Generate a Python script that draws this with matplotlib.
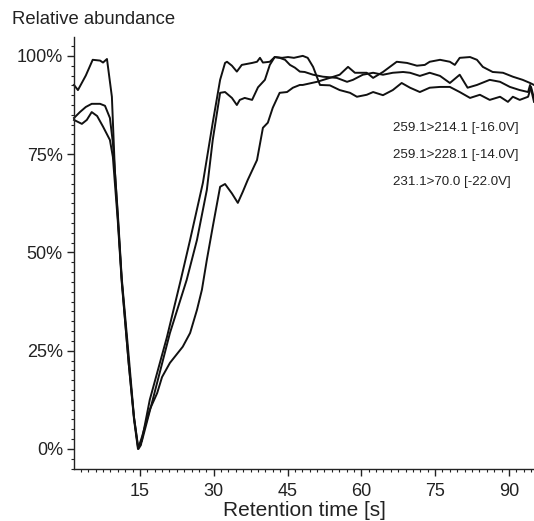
import matplotlib
matplotlib.use("Agg")
import matplotlib.pyplot as plt
from matplotlib.ticker import MultipleLocator, FuncFormatter

plt.rcParams['font.family'] = ['Liberation Sans', 'DejaVu Sans']

# Retention time (s) and relative abundance (%) for three transitions
t1 = [1.6, 2.4, 4.0, 5.4, 6.9, 7.5, 8.3, 9.3, 9.9, 11.3, 12.7, 13.8, 14.7, 15.2, 17.0, 20.5,
      23.3, 25.2, 27.8, 29.8, 31.3, 32.3, 32.7, 33.7, 34.7, 35.7, 37.8, 38.8, 39.4, 40.0, 41.4,
      42.4, 43.9, 45.1, 46.3, 48.1, 49.1, 50.2, 51.6, 53.6, 55.6, 57.7, 59.1, 61.1, 62.4, 64.4,
      66.4, 68.2, 69.9, 71.9, 73.9, 76.0, 78.0, 80.0, 82.1, 84.1, 86.1, 88.2, 89.8, 90.8, 92.2,
      93.9, 94.5, 95.1]
y1 = [92.6, 91.3, 95.0, 99.0, 98.8, 98.3, 99.2, 89.6, 71.0, 43.0, 22.0, 8.0, 0.0, 1.0, 12.5, 28.5,
      43.0, 53.2, 67.7, 83.0, 93.9, 98.2, 98.5, 97.5, 96.0, 97.7, 98.2, 98.5, 99.5, 98.3, 98.5,
      99.7, 99.5, 99.7, 99.5, 100.0, 99.5, 97.2, 92.6, 92.5, 91.3, 90.6, 89.6, 90.1, 90.8, 90.0,
      91.3, 93.1, 91.9, 90.8, 91.9, 92.1, 92.1, 90.8, 89.3, 90.1, 88.8, 89.6, 88.3, 89.6, 88.8,
      89.6, 92.1, 89.2]

t2 = [1.6, 2.8, 4.0, 5.2, 6.9, 7.9, 8.9, 9.5, 10.5, 11.3, 12.8, 13.8, 14.6, 15.4, 17.6, 21.1,
      24.5, 26.6, 28.6, 29.8, 31.3, 32.3, 33.7, 34.7, 35.3, 36.3, 37.8, 39.0, 40.4, 41.4, 42.4,
      43.4, 44.5, 45.5, 46.5, 47.5, 48.5, 50.2, 52.2, 55.0, 57.1, 58.3, 60.3, 62.4, 64.4, 66.4,
      68.5, 69.9, 71.9, 73.9, 76.0, 78.0, 80.0, 81.6, 83.5, 86.1, 88.2, 90.2, 92.2, 93.9, 94.3,
      95.1]
y2 = [84.2, 85.7, 87.0, 87.8, 87.8, 87.3, 84.2, 77.9, 60.0, 43.5, 22.5, 8.0, 0.5, 2.0, 12.5, 29.5,
      43.0, 53.2, 65.9, 78.6, 90.6, 90.8, 89.3, 87.5, 88.8, 89.3, 88.8, 92.0, 93.9, 97.7, 99.7,
      99.5, 99.0, 97.7, 97.0, 96.0, 95.9, 95.2, 94.7, 94.4, 93.4, 93.9, 95.2, 95.7, 95.2, 95.7,
      95.9, 95.7, 94.9, 95.7, 94.9, 93.1, 95.2, 91.9, 92.6, 93.9, 93.4, 92.1, 91.3, 90.8, 92.6,
      88.3]

t3 = [1.6, 3.2, 4.2, 5.2, 6.3, 7.5, 8.9, 9.5, 10.5, 11.3, 12.7, 13.8, 14.6, 15.4, 17.0, 18.5,
      19.5, 21.1, 23.7, 25.2, 26.6, 27.6, 28.6, 29.8, 31.3, 32.3, 33.7, 34.9, 35.9, 36.9, 38.8,
      40.0, 41.0, 42.0, 43.4, 44.9, 46.1, 47.5, 48.1, 51.0, 53.6, 55.6, 57.3, 58.7, 61.1, 62.4,
      64.4, 67.2, 69.3, 71.3, 72.9, 73.9, 76.0, 78.0, 79.0, 80.0, 82.1, 83.5, 84.7, 86.7, 88.8,
      90.8, 92.8, 94.3, 95.1]
y3 = [83.7, 82.7, 83.7, 85.7, 84.7, 82.0, 78.6, 74.3, 58.0, 42.5, 22.0, 7.5, 0.0, 3.0, 10.0, 14.2,
      18.3, 21.9, 26.0, 29.5, 35.4, 40.5, 48.1, 56.5, 66.7, 67.4, 65.0, 62.6, 65.4, 68.4, 73.5,
      81.7, 83.0, 86.8, 90.6, 90.8, 91.9, 92.6, 92.6, 93.4, 94.4, 95.2, 97.2, 95.7, 95.7, 94.4,
      95.9, 98.5, 98.2, 97.5, 97.7, 98.5, 99.0, 98.5, 97.7, 99.5, 99.7, 99.0, 97.2, 95.9, 95.7,
      94.7, 93.9, 93.1, 92.6]

x_ticks = [15, 30, 45, 60, 75, 90]
y_ticks = [0, 25, 50, 75, 100]
labels = ["259.1>214.1 [-16.0V]", "259.1>228.1 [-14.0V]", "231.1>70.0 [-22.0V]"]

fig = plt.figure(figsize=(5.34, 5.21), dpi=100)
ax = fig.add_axes([74 / 534, 52 / 521, 460 / 534, 432 / 521])

for t, y in [(t1, y1), (t2, y2), (t3, y3)]:
    ax.plot(t, y, color='#111111', lw=1.4, solid_joinstyle='round', clip_on=False)

ax.set_xlim(1.6, 95.1)
ax.set_ylim(-5.1, 104.8)
ax.set_xticks(x_ticks)
ax.set_yticks(y_ticks)
ax.xaxis.set_minor_locator(MultipleLocator(1.5))
ax.yaxis.set_minor_locator(MultipleLocator(2.5))
ax.yaxis.set_major_formatter(FuncFormatter(lambda v, p: f"{int(v)}%"))

for s in ['top', 'right']:
    ax.spines[s].set_visible(False)
for s in ['left', 'bottom']:
    ax.spines[s].set_linewidth(1.0)
    ax.spines[s].set_color('#222222')

ax.tick_params(axis='both', which='major', direction='out', length=5, width=1.0,
               labelsize=13, colors='#222222', pad=3)
ax.tick_params(axis='x', which='major', pad=5)
ax.tick_params(axis='both', which='minor', direction='out', length=2, width=0.8, colors='#222222')

ax.set_xlabel("Retention time [s]", fontsize=15, color='#222222', labelpad=1)
fig.text(12 / 534, 1 - 20 / 521, "Relative abundance", fontsize=13.3, color='#222222',
         ha='left', va='center')

for i, lab in enumerate(labels):
    ax.text(0.693, 0.79 - i * 0.063, lab, transform=ax.transAxes, fontsize=9.6,
            color='#222222', ha='left', va='center')

fig.savefig("out.png", dpi=100)
